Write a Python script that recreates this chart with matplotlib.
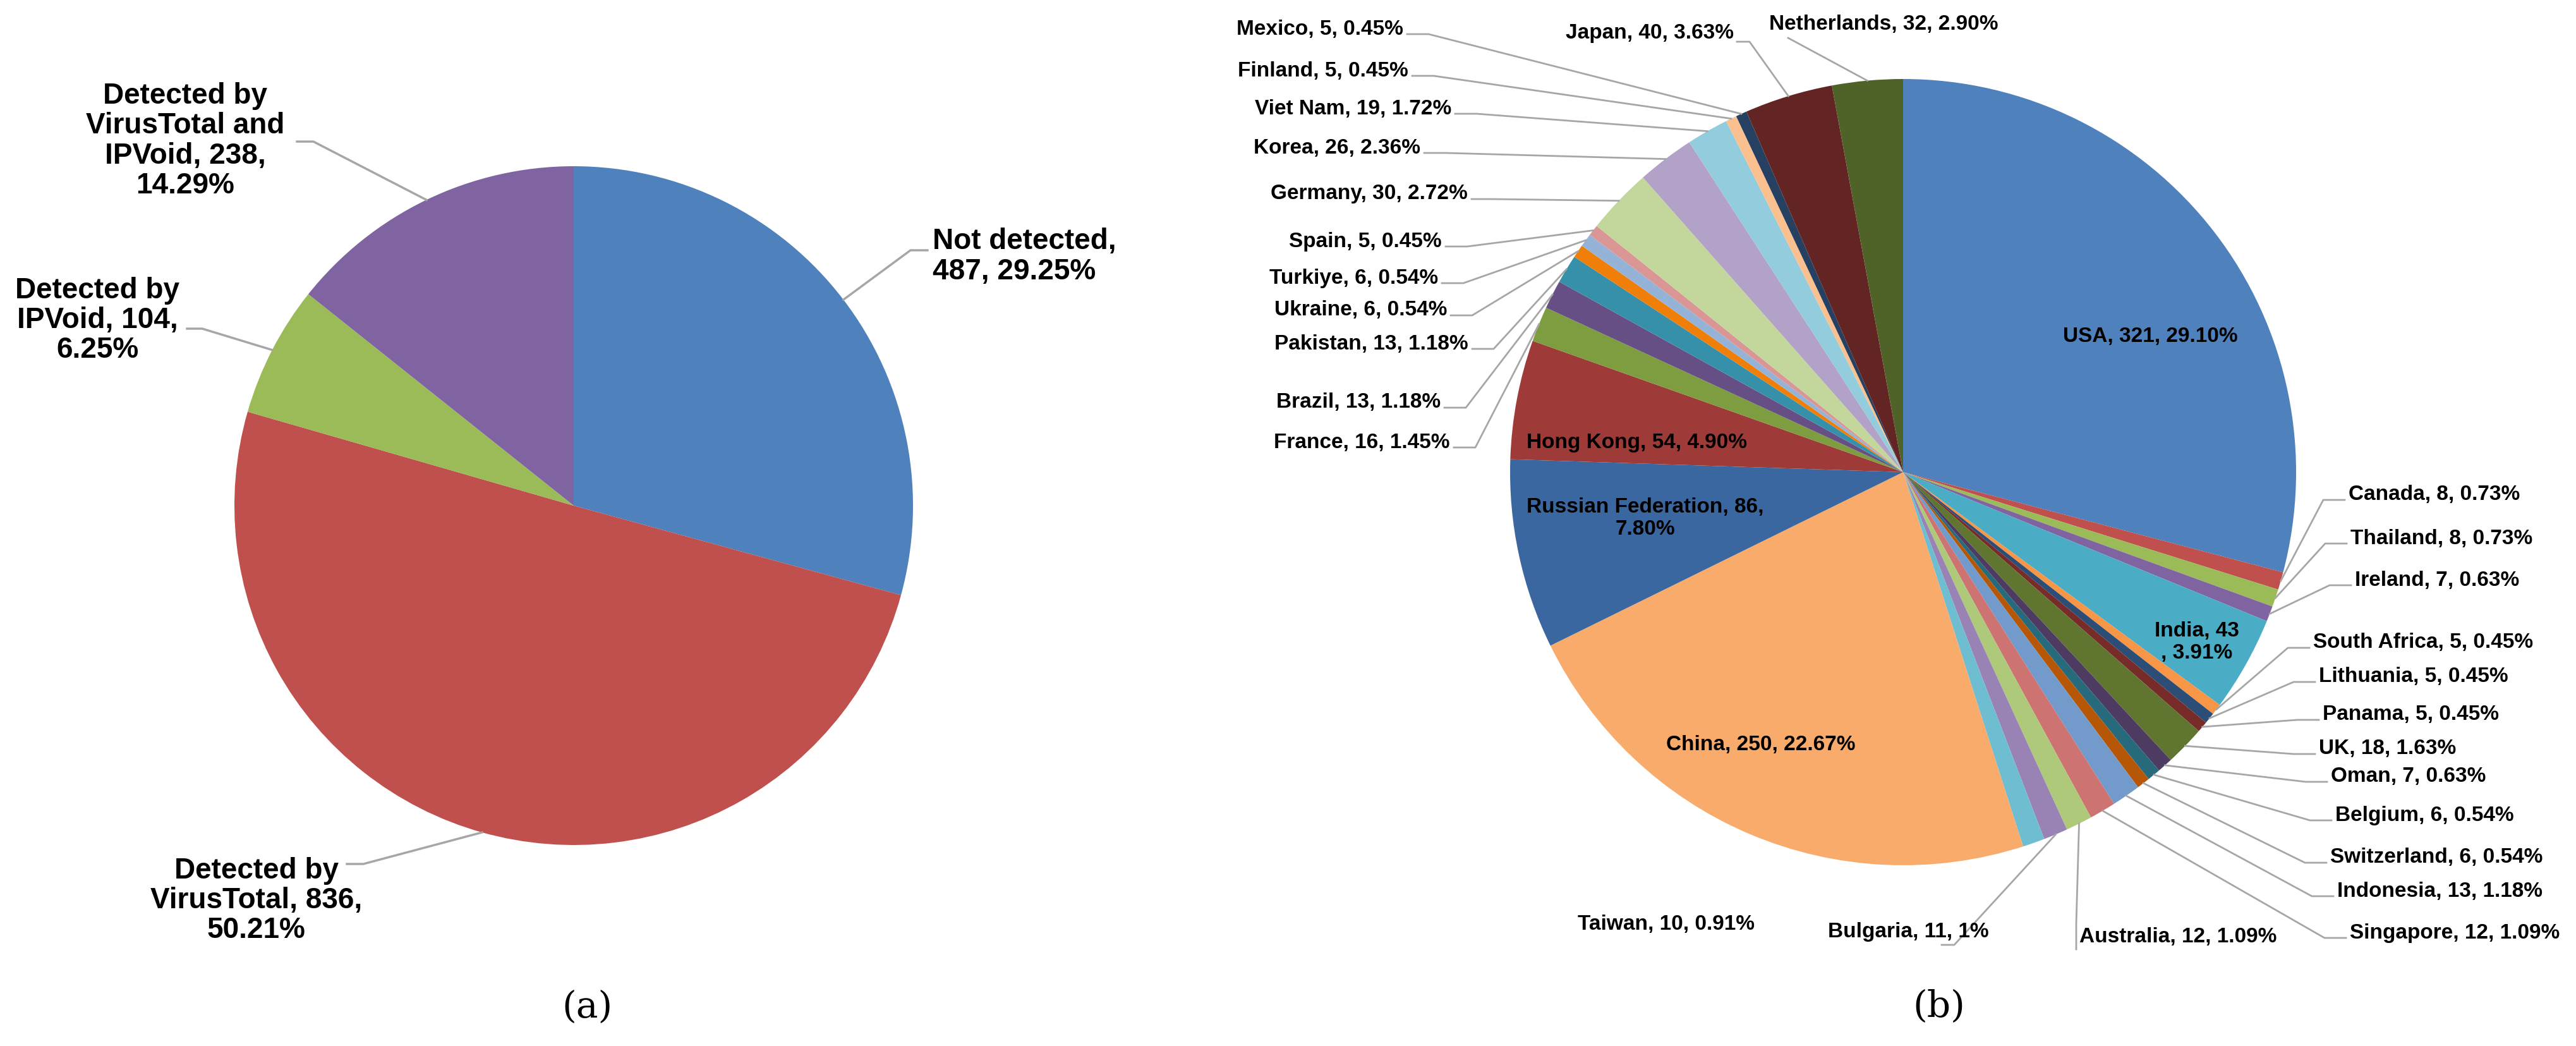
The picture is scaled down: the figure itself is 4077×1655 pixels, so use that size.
import matplotlib.pyplot as plt
import numpy as np

W, H = 4077, 1655

# (a) detection results
det_labels = ['Not detected,\n487, 29.25%', 'Detected by\nVirusTotal, 836,\n50.21%',
              'Detected by\nIPVoid, 104,\n6.25%', 'Detected by\nVirusTotal and\nIPVoid, 238,\n14.29%']
det_values = [487, 836, 104, 238]
det_colors = ['#4F81BD', '#C0504D', '#9BBB59', '#8064A2']

# (b) countries, clockwise from top
countries = ['USA', 'Canada', 'Thailand', 'Ireland', 'India', 'South Africa', 'Lithuania', 'Panama', 'UK',
             'Oman', 'Belgium', 'Switzerland', 'Indonesia', 'Singapore', 'Australia', 'Bulgaria', 'Taiwan',
             'China', 'Russian Federation', 'Hong Kong', 'France', 'Brazil', 'Pakistan', 'Ukraine', 'Turkiye',
             'Spain', 'Germany', 'Korea', 'Viet Nam', 'Finland', 'Mexico', 'Japan', 'Netherlands']
counts = [321, 8, 8, 7, 43, 5, 5, 5, 18, 7, 6, 6, 13, 12, 12, 11, 10, 250, 86, 54, 16, 13, 13, 6, 6, 5,
          30, 26, 19, 5, 5, 40, 32]
pcts = ['29.10%', '0.73%', '0.73%', '0.63%', '3.91%', '0.45%', '0.45%', '0.45%', '1.63%', '0.63%', '0.54%',
        '0.54%', '1.18%', '1.09%', '1.09%', '1%', '0.91%', '22.67%', '7.80%', '4.90%', '1.45%', '1.18%',
        '1.18%', '0.54%', '0.54%', '0.45%', '2.72%', '2.36%', '1.72%', '0.45%', '0.45%', '3.63%', '2.90%']
colors = ['#4F81BD', '#C0504D', '#9BBB59', '#8064A2', '#4BACC6', '#F79646', '#2C4D75', '#772C2A', '#5F7530',
          '#4D3B62', '#276A7C', '#B65708', '#729ACA', '#CD7371', '#AFC97A', '#9983B5', '#6FBDD1', '#F9AB6B',
          '#3A679F', '#9E3B38', '#7E9C40', '#664F84', '#3690AA', '#F07F09', '#95B3D7', '#D99694', '#C3D69B',
          '#B2A2C7', '#93CDDD', '#FAC090', '#254061', '#632523', '#4F6228']

# label layout in pixels from top-left: x, y, ha
lab_pos = {
    'Canada': (3717, 783, 'left'), 'Thailand': (3720, 852, 'left'), 'Ireland': (3727, 918, 'left'),
    'South Africa': (3661, 1017, 'left'), 'Lithuania': (3670, 1071, 'left'), 'Panama': (3676, 1131, 'left'),
    'UK': (3670, 1185, 'left'), 'Oman': (3689, 1229, 'left'), 'Belgium': (3696, 1290, 'left'),
    'Switzerland': (3688, 1357, 'left'), 'Indonesia': (3699, 1410, 'left'), 'Singapore': (3719, 1476, 'left'),
    'Australia': (3291, 1482, 'left'), 'Bulgaria': (2893, 1475, 'left'), 'Taiwan': (2497, 1463, 'left'),
    'Mexico': (2221, 46, 'right'), 'Finland': (2229, 112, 'right'), 'Viet Nam': (2297, 172, 'right'),
    'Korea': (2248, 234, 'right'), 'Germany': (2323, 307, 'right'), 'Spain': (2282, 382, 'right'),
    'Turkiye': (2276, 440, 'right'), 'Ukraine': (2290, 491, 'right'), 'Pakistan': (2324, 544, 'right'),
    'Brazil': (2280, 637, 'right'), 'France': (2295, 700, 'right'),
    'Japan': (2744, 52, 'right'), 'Netherlands': (2800, 38, 'left'),
}
inside = {'USA': (3403, 533), 'India': (3477, 1016), 'China': (2787, 1179),
          'Russian Federation': (2604, 820), 'Hong Kong': (2590, 701)}


def px(x, y):
    return x, H - y


fig = plt.figure(figsize=(W / 100, H / 100), dpi=100)
ax = fig.add_axes([0, 0, 1, 1])
ax.set_aspect('equal')

font = ['Liberation Sans', 'DejaVu Sans']
lc = '#A6A6A6'


def edge(c, r, a, k=1.0):
    return c[0] + k * r * np.cos(np.radians(a)), c[1] + k * r * np.sin(np.radians(a))


# ---- (a)
ca = px(908, 800)
ra = 537
ax.pie(det_values, colors=det_colors, startangle=90, counterclock=False, center=ca, radius=ra,
       frame=True, wedgeprops=dict(linewidth=0))
a_text = [(1476, 406, 'left'), (406, 1425, 'center'), (154, 507, 'center'), (293, 223, 'center')]
a_stub = [[(1468, 396), (1441, 396)], [(549, 1367), (575, 1367)],
          [(296, 520), (320, 520)], [(470, 224), (496, 224)]]
ang = 90 - 360 * (np.cumsum(det_values) - np.array(det_values) / 2) / sum(det_values)
for i in range(4):
    tx, ty, ha = a_text[i]
    ax.text(*px(tx, ty), det_labels[i], ha=ha, va='center', multialignment=ha, fontsize=33,
            fontweight='bold', family=font, linespacing=1.1)
    e = edge(ca, ra, ang[i])
    pts = [px(*p) for p in a_stub[i]] + [e]
    ax.plot([p[0] for p in pts], [p[1] for p in pts], color=lc, lw=2.5)
ax.text(*px(929, 1594), '(a)', ha='center', va='center', fontsize=42, family='DejaVu Serif')

# ---- (b)
cb = px(3012, 747)
rb = 622
ax.pie(counts, colors=colors, startangle=90, counterclock=False, center=cb, radius=rb,
       frame=True, wedgeprops=dict(linewidth=0))
mid = 90 - 360 * (np.cumsum(counts) - np.array(counts) / 2) / sum(counts)
fs = 24
for i, c in enumerate(countries):
    if c in inside:
        x, y = inside[c]
        txt = c + ', ' + str(counts[i]) + ', ' + pcts[i]
        if c == 'India':
            txt = 'India, 43\n, 3.91%'
        if c == 'Russian Federation':
            txt = 'Russian Federation, 86,\n7.80%'
        ax.text(*px(x, y), txt, ha='center', va='center', fontsize=fs, fontweight='bold', family=font)
        continue
    x, y, ha = lab_pos[c]
    txt = c + ', ' + str(counts[i]) + ', ' + pcts[i]
    ax.text(*px(x, y), txt, ha=ha, va='center', fontsize=fs, fontweight='bold', family=font)
    e = edge(cb, rb, mid[i])
    if c == 'Taiwan':
        continue
    if c == 'Japan':
        pts = [px(x + 5, y + 14), px(x + 25, y + 14), e]
    elif c == 'Netherlands':
        pts = [px(x + 30, y + 22), e]
    elif c == 'Bulgaria':
        pts = [px(x + 180, y + 20), px(x + 200, y + 20), e]
    elif c == 'Australia':
        pts = [px(x - 5, y + 20), px(x - 5, y - 20), e]
    elif ha == 'left':
        pts = [px(x - 6, y + 8), px(x - 40, y + 8), e]
    else:
        pts = [px(x + 6, y + 8), px(x + 40, y + 8), e]
    ax.plot([p[0] for p in pts], [p[1] for p in pts], color=lc, lw=2)
ax.text(*px(3069, 1593), '(b)', ha='center', va='center', fontsize=42, family='DejaVu Serif')

ax.set_xlim(0, W)
ax.set_ylim(0, H)
ax.axis('off')
fig.savefig('out.png', dpi=100)
